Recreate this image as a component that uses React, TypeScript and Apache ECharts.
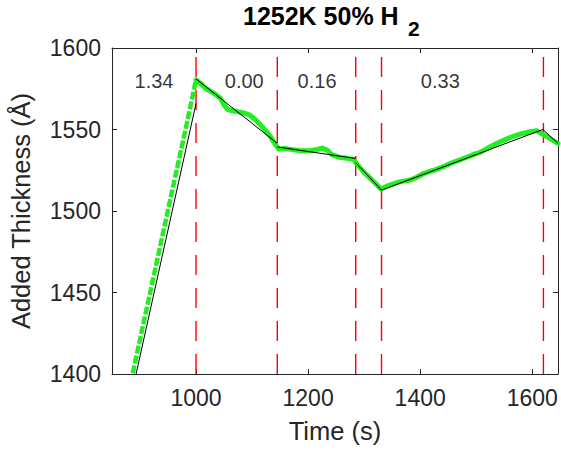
import React, { useEffect, useRef } from "react";
import * as echarts from "echarts";

// Rising part (green dots, deposition ramp)
const riseTime = [887, 920, 954, 980, 1000];
const riseVal = [1400.5, 1453, 1507, 1548, 1580.5];

// Green measured thickness after the peak
const mainTime = [
  1000, 1008, 1017, 1032, 1044, 1050, 1056, 1065, 1074, 1086, 1095, 1106, 1118, 1133, 1142, 1148,
  1158, 1169, 1187, 1204, 1216, 1225, 1234, 1243, 1255, 1270, 1281, 1286, 1299, 1311, 1323, 1330,
  1341, 1347, 1365, 1382, 1394, 1406, 1424, 1442, 1454, 1471, 1483, 1498, 1507, 1525, 1543, 1560,
  1578, 1596, 1608, 1617, 1631, 1646,
];
const mainVal = [
  1580.5, 1578.3, 1575.3, 1572.2, 1569, 1565, 1562.4, 1561.5, 1561, 1560, 1559, 1556, 1551.7, 1545.6, 1540.5, 1538,
  1538.3, 1537.8, 1537, 1537, 1537.8, 1538.6, 1537.4, 1534.4, 1533, 1532.3, 1531.7, 1529.3, 1524, 1520, 1516, 1513.5,
  1515.3, 1516, 1518, 1519, 1520.7, 1523, 1525, 1527.2, 1529.3, 1531.3, 1533, 1535, 1536, 1539.4, 1542.5, 1545,
  1547.2, 1548.6, 1549.3, 1547.5, 1544.6, 1541.5,
];

// Black piecewise fit segments
const fitStartT = [893, 1000, 1145, 1285, 1331, 1619];
const fitStartV = [1400, 1581, 1539.3, 1529.6, 1512.8, 1550];
const fitEndT = [1000, 1145, 1285, 1331, 1619, 1646];
const fitEndV = [1566, 1541.5, 1532.2, 1512.8, 1550, 1541.5];

// Red dashed boundaries
const boundaries = [1000, 1145, 1285, 1331, 1620];

// Rate labels
const rateLabels = ["1.34", "0.00", "0.16", "0.33"];
const rateLabelT = [925, 1086, 1216, 1436];
const rateLabelV = [1580, 1580, 1580, 1580];

const xTicks = [1000, 1200, 1400, 1600];
const yTicks = [1400, 1450, 1500, 1550, 1600];

const titleMain = "1252K 50% H";
const titleSub = "2";
const xName = "Time (s)";
const yName = "Added Thickness (Å)";

export default function App() {
  const ref = useRef<HTMLDivElement>(null);
  useEffect(() => {
    const chart = echarts.init(ref.current!, null, { renderer: "svg" });
    const FONT = "'Liberation Sans', Arial, Helvetica, sans-serif";
    const axisColor = "#262626";
    const green = "#22ee22";
    const xMin = 850,
      xMax = 1646,
      yMin = yTicks[0],
      yMax = yTicks[yTicks.length - 1];

    const axisLine = { show: true, onZero: false, lineStyle: { color: axisColor, width: 1 } };
    const plain = (v: number) => String(v);

    const fitSeries = fitStartT.map((t, i) => ({
      type: "line",
      data: [
        [t, fitStartV[i]],
        [fitEndT[i], fitEndV[i]],
      ],
      showSymbol: false,
      symbol: "none",
      lineStyle: { color: "#000", width: 1 },
      z: 5,
      silent: true,
    }));

    const boundarySeries = boundaries.map((b) => ({
      type: "line",
      data: [
        [b, yMin],
        [b, yMax],
      ],
      showSymbol: false,
      symbol: "none",
      lineStyle: { color: "#ff0000", width: 1.4, type: [20, 13] },
      z: 2,
      silent: true,
    }));

    chart.setOption({
      animation: false,
      grid: { left: 111, top: 48, right: 3, bottom: 82, containLabel: false },
      xAxis: [
        {
          type: "value",
          min: xMin,
          max: xMax,
          position: "bottom",
          splitLine: { show: false },
          axisLine,
          axisTick: { show: true, inside: true, length: 5, customValues: xTicks, lineStyle: { color: axisColor } },
          axisLabel: {
            show: true,
            customValues: xTicks,
            formatter: plain,
            margin: 12,
            fontSize: 23,
            fontFamily: FONT,
            color: axisColor,
          },
          name: xName,
          nameLocation: "middle",
          nameGap: 44,
          nameTextStyle: { fontSize: 25.5, fontFamily: FONT, color: axisColor },
        },
        {
          type: "value",
          min: xMin,
          max: xMax,
          position: "top",
          splitLine: { show: false },
          axisLine,
          axisTick: { show: true, inside: true, length: 5, customValues: xTicks, lineStyle: { color: axisColor } },
          axisLabel: { show: false },
        },
      ],
      yAxis: [
        {
          type: "value",
          min: yMin,
          max: yMax,
          interval: 50,
          position: "left",
          splitLine: { show: false },
          axisLine,
          axisTick: { show: true, inside: true, length: 5, lineStyle: { color: axisColor } },
          axisLabel: { show: true, formatter: plain, margin: 11, fontSize: 23, fontFamily: FONT, color: axisColor },
          name: yName,
          nameLocation: "middle",
          nameGap: 78,
          nameTextStyle: { fontSize: 25.5, fontFamily: FONT, color: axisColor },
        },
        {
          type: "value",
          min: yMin,
          max: yMax,
          interval: 50,
          position: "right",
          splitLine: { show: false },
          axisLine,
          axisTick: { show: true, inside: true, length: 5, lineStyle: { color: axisColor } },
          axisLabel: { show: false },
        },
      ],
      graphic: [
        {
          type: "text",
          x: 243,
          y: 16,
          style: {
            text: titleMain,
            font: `bold 25px ${FONT}`,
            fill: "#000",
            textAlign: "left",
            textVerticalAlign: "middle",
          },
        },
        {
          type: "text",
          x: 408,
          y: 28,
          style: {
            text: titleSub,
            font: `bold 21px ${FONT}`,
            fill: "#000",
            textAlign: "left",
            textVerticalAlign: "middle",
          },
        },
      ],
      series: [
        ...boundarySeries,
        {
          type: "line",
          data: riseTime.map((t, i) => [t, riseVal[i]]),
          showSymbol: false,
          symbol: "none",
          lineStyle: { color: green, width: 4.5, type: [8, 2] },
          z: 3,
          silent: true,
        },
        {
          type: "line",
          data: mainTime.map((t, i) => [t, mainVal[i]]),
          showSymbol: false,
          symbol: "none",
          lineStyle: { color: green, width: 5, join: "round", cap: "round" },
          z: 3,
          silent: true,
        },
        ...fitSeries,
        {
          type: "scatter",
          data: rateLabelT.map((t, i) => [t, rateLabelV[i], rateLabels[i]]),
          symbolSize: 0,
          silent: true,
          z: 6,
          label: {
            show: true,
            position: "inside",
            formatter: (p: any) => p.value[2],
            fontSize: 20,
            fontFamily: FONT,
            color: "#000",
          },
        },
      ],
    });
    return () => chart.dispose();
  }, []);
  return (
    <div
      ref={ref}
      style={{ position: "fixed", left: 0, top: 0, width: 561, height: 456, background: "#fff" }}
    />
  );
}
